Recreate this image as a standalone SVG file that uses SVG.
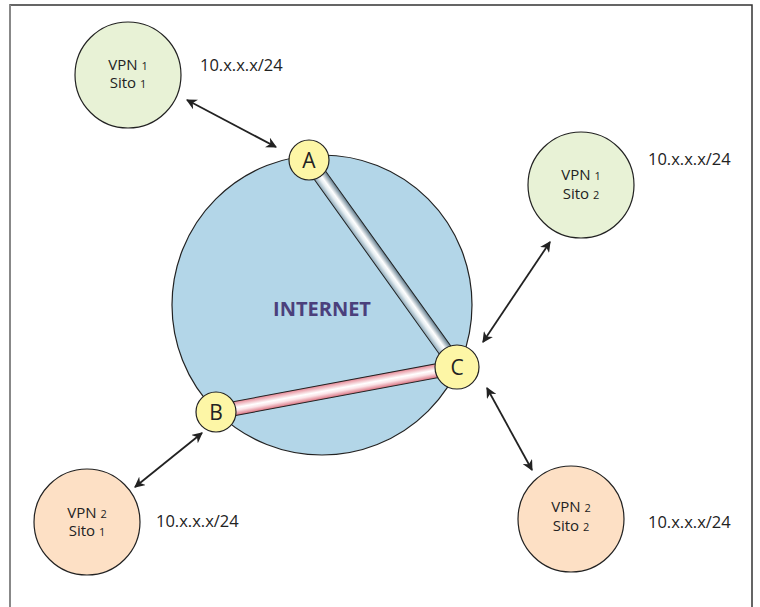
<svg xmlns="http://www.w3.org/2000/svg" width="760" height="607" viewBox="0 0 760 607">
<style>
.site{stroke:#222;stroke-width:1.2}
.g{fill:#e8f2d6}
.o{fill:#fde0c5}
.rt{fill:#fdf6a6;stroke:#222;stroke-width:1.2}
.lbl{font-family:"Open Sans","Liberation Sans",sans-serif;font-size:15px;fill:#222;text-anchor:middle}
.sm{font-size:11px}
.addr{font-family:"Open Sans","Liberation Sans",sans-serif;font-size:16.5px;fill:#222}
.rl{font-family:"Open Sans","Liberation Sans",sans-serif;font-size:21px;fill:#222;text-anchor:middle}
.conn{stroke:#222;stroke-width:1.8;fill:none;marker-start:url(#ah);marker-end:url(#ah)}
</style>
<defs>
<marker id="ah" viewBox="0 0 10 10" refX="9" refY="5" markerWidth="6" markerHeight="6" orient="auto-start-reverse" markerUnits="strokeWidth">
<path d="M0,0 L10,5 L0,10 L3,5 Z" fill="#222"/>
</marker>
<linearGradient id="blueTube" x1="0" y1="0" x2="0" y2="1">
<stop offset="0" stop-color="#5f7b8c"/>
<stop offset="0.45" stop-color="#ffffff"/>
<stop offset="0.65" stop-color="#e6eef2"/>
<stop offset="1" stop-color="#8aa6b6"/>
</linearGradient>
<linearGradient id="pinkTube" x1="0" y1="0" x2="0" y2="1">
<stop offset="0" stop-color="#e58593"/>
<stop offset="0.45" stop-color="#ffffff"/>
<stop offset="0.65" stop-color="#fbe3e7"/>
<stop offset="1" stop-color="#d9707f"/>
</linearGradient>
</defs>
<rect width="760" height="607" fill="#fff"/>
<path d="M10,607 V5 H752 V607" fill="none" stroke="#333" stroke-width="1.5"/>
<path d="M10,5 V607" stroke="#888" stroke-width="2"/>

<g id="internet">
<circle cx="322" cy="305" r="150" fill="#b3d6e8" stroke="#222" stroke-width="1.2"/>
<text x="322" y="316" font-family="'Open Sans','Liberation Sans',sans-serif" font-size="20" font-weight="bold" fill="#4b407c" text-anchor="middle">INTERNET</text>
</g>

<g id="tube-AC">
<rect x="0" y="-7" width="254" height="14" fill="url(#blueTube)" stroke="#222" stroke-width="1" transform="translate(309,160) rotate(54.4)"/>
</g>
<g id="tube-BC">
<rect x="0" y="-7" width="245" height="14" fill="url(#pinkTube)" stroke="#222" stroke-width="1" transform="translate(216,412) rotate(-10.6)"/>
</g>

<g id="connectors">
<line class="conn" x1="187" y1="100" x2="276" y2="147"/>
<line class="conn" x1="550" y1="242" x2="483" y2="342"/>
<line class="conn" x1="487" y1="388" x2="532" y2="470"/>
<line class="conn" x1="202" y1="433" x2="135" y2="487"/>
</g>

<g id="router-A">
<circle class="rt" cx="309" cy="160" r="20"/>
<text class="rl" x="309" y="168">A</text>
</g>
<g id="router-B">
<circle class="rt" cx="216" cy="412" r="20"/>
<text class="rl" x="216" y="420">B</text>
</g>
<g id="router-C">
<circle class="rt" cx="457" cy="367" r="22"/>
<text class="rl" x="457" y="375">C</text>
</g>

<g id="vpn1-sito1">
<circle class="site g" cx="128" cy="75" r="53"/>
<text class="lbl"><tspan x="128" y="70">VPN <tspan class="sm">1</tspan></tspan><tspan x="128" y="88">Sito <tspan class="sm">1</tspan></tspan></text>
<text class="addr" x="200" y="71">10.x.x.x/24</text>
</g>
<g id="vpn1-sito2">
<circle class="site g" cx="581" cy="185" r="53"/>
<text class="lbl"><tspan x="581" y="180">VPN <tspan class="sm">1</tspan></tspan><tspan x="581" y="199">Sito <tspan class="sm">2</tspan></tspan></text>
<text class="addr" x="648" y="165">10.x.x.x/24</text>
</g>
<g id="vpn2-sito1">
<circle class="site o" cx="87" cy="522" r="53"/>
<text class="lbl"><tspan x="87" y="518">VPN <tspan class="sm">2</tspan></tspan><tspan x="87" y="536">Sito <tspan class="sm">1</tspan></tspan></text>
<text class="addr" x="156" y="527">10.x.x.x/24</text>
</g>
<g id="vpn2-sito2">
<circle class="site o" cx="571" cy="519" r="53"/>
<text class="lbl"><tspan x="571" y="512">VPN <tspan class="sm">2</tspan></tspan><tspan x="571" y="531">Sito <tspan class="sm">2</tspan></tspan></text>
<text class="addr" x="648" y="528">10.x.x.x/24</text>
</g>
</svg>
